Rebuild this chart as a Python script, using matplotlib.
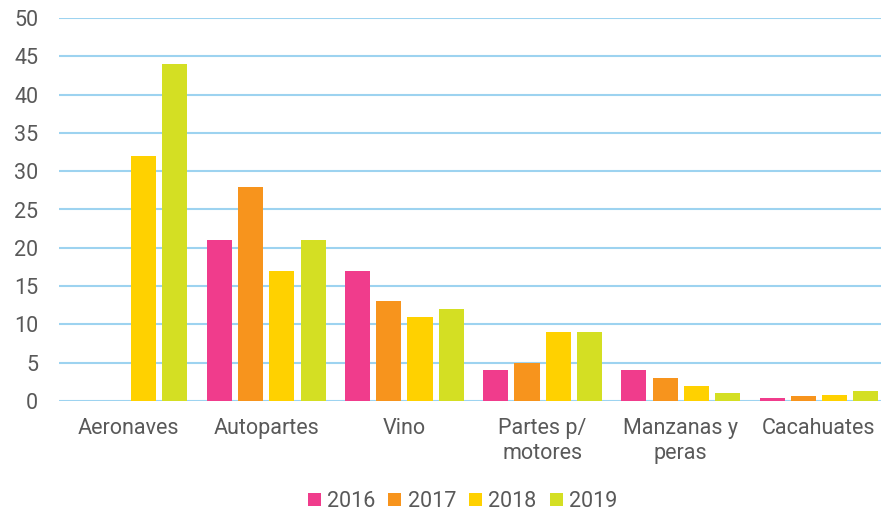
import numpy as np
import matplotlib.pyplot as plt

plt.rcParams['font.family'] = ['Roboto', 'DejaVu Sans']

categories = ["Aeronaves", "Autopartes", "Vino", "Partes p/\nmotores", "Manzanas y\nperas", "Cacahuates"]
years = ["2016", "2017", "2018", "2019"]
v2016 = [0, 21, 17, 4, 4, 0.35]
v2017 = [0, 28, 13, 5, 3, 0.65]
v2018 = [32, 17, 11, 9, 2, 0.8]
v2019 = [44, 21, 12, 9, 1, 1.27]
series = [v2016, v2017, v2018, v2019]
colors = ["#F03C8C", "#F7941D", "#FFD100", "#D4DF23"]

fig = plt.figure(figsize=(8.81, 5.11), dpi=100)
ax = fig.add_axes([59 / 881, 1 - 401 / 511, (888 - 59) / 881, (401 - 18) / 511])

x = np.arange(len(categories))
step = 0.226
width = 0.182
for i, (vals, col, yr) in enumerate(zip(series, colors, years)):
    ax.bar(x + (i - 1.5) * step, vals, width, color=col, label=yr, zorder=3)

ax.set_xlim(-0.5, len(categories) - 0.5)
ax.set_ylim(0, 50)
ax.set_yticks(range(0, 51, 5))
ax.set_xticks(x)
ax.set_xticklabels(categories, linespacing=1.3)
ax.grid(axis='y', color='#9DD3F0', linewidth=1.5, zorder=0)
ax.set_axisbelow(True)
for s in ax.spines.values():
    s.set_visible(False)
ax.tick_params(axis='both', length=0, labelsize=15.5, colors='#595959')
ax.tick_params(axis='y', pad=15)
ax.tick_params(axis='x', pad=12)

fig.legend(loc='lower center', ncol=4, frameon=False, fontsize=15.5,
           bbox_to_anchor=(0.525, -0.04), handlelength=0.6, handleheight=0.6,
           handletextpad=0.3, columnspacing=0.6, labelcolor='#595959')

fig.savefig("out.png", dpi=100)
